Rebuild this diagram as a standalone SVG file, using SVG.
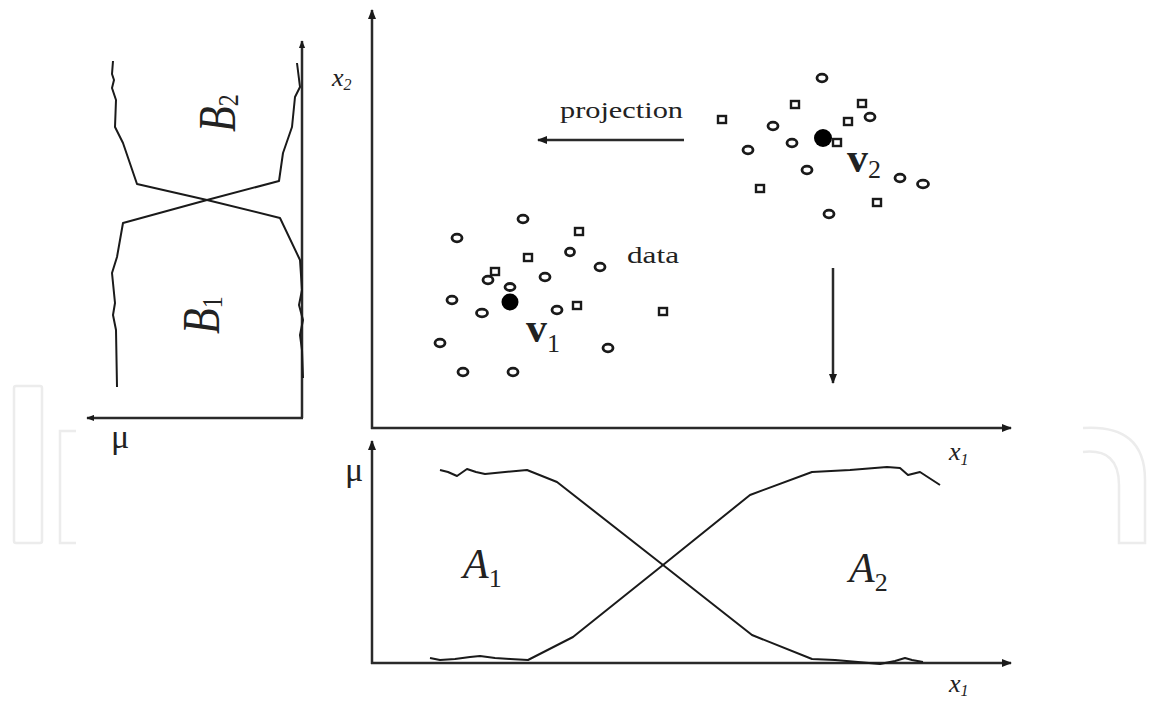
<svg xmlns="http://www.w3.org/2000/svg" width="1151" height="701" viewBox="0 0 1151 701">
<style>
.wm{fill:none;stroke:#ececec;stroke-width:2.5}
.ax{stroke:#2a2a2a;stroke-width:2.5;fill:none}
.cv{stroke:#1a1a1a;stroke-width:2;fill:none;stroke-linejoin:round}
.c{fill:#fff;stroke:#1a1a1a;stroke-width:2.8}
.s{fill:#fff;stroke:#1a1a1a;stroke-width:2.4}
.t{font-family:"Liberation Serif",serif;fill:#222}
.i{font-style:italic}
</style>
<defs>
<marker id="ah" viewBox="0 0 10 8" refX="9" refY="4" markerWidth="10" markerHeight="8" markerUnits="userSpaceOnUse" orient="auto">
<path d="M0,0 L10,4 L0,8 Z" fill="#1a1a1a"/>
</marker>
<marker id="ahs" viewBox="0 0 10 8" refX="9" refY="4" markerWidth="8" markerHeight="7" markerUnits="userSpaceOnUse" orient="auto">
<path d="M0,0 L10,4 L0,8 Z" fill="#1a1a1a"/>
</marker>
</defs>
<rect width="1151" height="701" fill="#fff"/>
<g id="watermark">
<rect class="wm" x="14" y="386" width="28" height="157" rx="2"/>
<path class="wm" d="M76,431 L60,431 L60,543 L76,543"/>
<path class="wm" d="M1083,428 Q1145,424 1145,480 L1145,543 L1119,543 L1119,485 Q1119,448 1083,452"/>
</g>
<g id="connectors">
<line class="ax" x1="302" y1="418" x2="302" y2="41" marker-end="url(#ahs)"/>
<line class="ax" x1="303" y1="418" x2="87" y2="418" marker-end="url(#ahs)"/>
<line class="ax" x1="372" y1="429" x2="372" y2="10" marker-end="url(#ah)"/>
<line class="ax" x1="371" y1="428" x2="1011" y2="428" marker-end="url(#ah)"/>
<line class="ax" x1="372" y1="664" x2="372" y2="441" marker-end="url(#ah)"/>
<line class="ax" x1="371" y1="663" x2="1011" y2="663" marker-end="url(#ah)"/>
<line class="ax" x1="684" y1="140" x2="538" y2="140" marker-end="url(#ah)"/>
<line class="ax" x1="833" y1="268" x2="833" y2="383" marker-end="url(#ah)"/>
</g>
<g id="b-chart">
<path class="cv" d="M113,61 L112,74 L114,80 L112,88 L116,100 L115,127 L123,143 L137,184 L207,200 L280,218 L300,260 L302,290 L299,305 L303,320 L300,335 L302,350 L303,378"/>
<path class="cv" d="M297,63 L300,87 L295,97 L292,127 L283,153 L279,181 L207,200 L123,223 L117,257 L112,273 L115,303 L113,315 L116,330 L117,387"/>
<text class="t i" font-size="42" transform="translate(235,132) scale(1.25,1) rotate(-90)">B<tspan font-size="24" dy="2" font-style="normal">2</tspan></text>
<text class="t i" font-size="42" transform="translate(219,334) scale(1.25,1) rotate(-90)">B<tspan font-size="24" dy="2" font-style="normal">1</tspan></text>
<text class="t" font-size="34" x="111" y="448">μ</text>
</g>
<g id="scatter">
<text class="t i" font-size="26" x="332" y="86">x<tspan font-size="16" dy="4">2</tspan></text>
<text class="t i" font-size="26" x="949" y="460">x<tspan font-size="16" dy="5">1</tspan></text>
<text class="t" font-size="24" x="560" y="118" textLength="123" lengthAdjust="spacingAndGlyphs">projection</text>
<text class="t" font-size="24" x="627" y="263" textLength="52" lengthAdjust="spacingAndGlyphs">data</text>
<g id="cluster1">
<ellipse class="c" cx="523" cy="219" rx="5" ry="3.8"/>
<ellipse class="c" cx="457" cy="238" rx="5" ry="3.8"/>
<rect class="s" x="575" y="228" width="8" height="7"/>
<rect class="s" x="524" y="254" width="8" height="7"/>
<ellipse class="c" cx="570" cy="252" rx="4.5" ry="3.8"/>
<ellipse class="c" cx="600" cy="267" rx="5" ry="3.8"/>
<rect class="s" x="491" y="268" width="8" height="7"/>
<ellipse class="c" cx="488" cy="280" rx="5" ry="3.8"/>
<ellipse class="c" cx="545" cy="277" rx="5" ry="3.8"/>
<ellipse class="c" cx="510" cy="287" rx="5" ry="3.5"/>
<ellipse class="c" cx="452" cy="300" rx="5" ry="3.8"/>
<ellipse class="c" cx="482" cy="313" rx="5.5" ry="3.8"/>
<ellipse class="c" cx="557" cy="310" rx="5" ry="3.8"/>
<rect class="s" x="573" y="302" width="8" height="7"/>
<rect class="s" x="659" y="308" width="8" height="7"/>
<ellipse class="c" cx="440" cy="343" rx="5" ry="3.8"/>
<ellipse class="c" cx="608" cy="348" rx="5" ry="3.8"/>
<ellipse class="c" cx="463" cy="372" rx="5" ry="3.8"/>
<ellipse class="c" cx="513" cy="372" rx="5" ry="3.8"/>
<circle cx="510" cy="302" r="8.5" fill="#000"/>
<text class="t" font-size="42" font-weight="bold" x="526" y="342">v<tspan font-size="26" font-weight="normal" dy="10">1</tspan></text>
</g>
<g id="cluster2">
<ellipse class="c" cx="822" cy="78" rx="5" ry="3.8"/>
<rect class="s" x="791" y="101" width="8" height="7"/>
<rect class="s" x="858" y="100" width="8" height="7"/>
<ellipse class="c" cx="870" cy="117" rx="5" ry="3.8"/>
<rect class="s" x="718" y="116" width="8" height="7"/>
<ellipse class="c" cx="773" cy="126" rx="5" ry="3.8"/>
<rect class="s" x="844" y="118" width="8" height="7"/>
<ellipse class="c" cx="792" cy="143" rx="5" ry="3.8"/>
<ellipse class="c" cx="748" cy="150" rx="5" ry="3.8"/>
<ellipse class="c" cx="807" cy="170" rx="5" ry="3.8"/>
<ellipse class="c" cx="900" cy="178" rx="5" ry="3.8"/>
<ellipse class="c" cx="923" cy="184" rx="5.5" ry="3.8"/>
<rect class="s" x="756" y="185" width="8" height="7"/>
<rect class="s" x="873" y="199" width="8" height="7"/>
<ellipse class="c" cx="829" cy="214" rx="5" ry="3.8"/>
<rect class="s" x="833" y="139" width="8" height="7"/>
<circle cx="823" cy="138" r="9" fill="#000"/>
<text class="t" font-size="42" font-weight="bold" x="847" y="172">v<tspan font-size="26" font-weight="normal" dy="6">2</tspan></text>
</g>
</g>
<g id="a-chart">
<path class="cv" d="M440,470 L448,472 L457,476 L467,469 L476,472 L485,474 L505,472 L527,470 L557,482 L663,565 L752,635 L812,659 L835,660 L858,662 L880,664 L895,661 L905,658 L912,660 L923,662"/>
<path class="cv" d="M430,658 L440,660 L455,659 L470,657 L480,656 L495,658 L510,659 L528,660 L573,637 L663,565 L750,495 L812,472 L850,470 L887,467 L900,468 L908,475 L920,472 L940,485"/>
<text class="t" font-size="34" x="345" y="481">μ</text>
<text class="t i" font-size="42" x="463" y="578">A<tspan font-size="26" dy="9" font-style="normal">1</tspan></text>
<text class="t i" font-size="42" x="849" y="582">A<tspan font-size="26" dy="9" font-style="normal">2</tspan></text>
<text class="t i" font-size="26" x="949" y="692">x<tspan font-size="16" dy="4">1</tspan></text>
</g>
</svg>
